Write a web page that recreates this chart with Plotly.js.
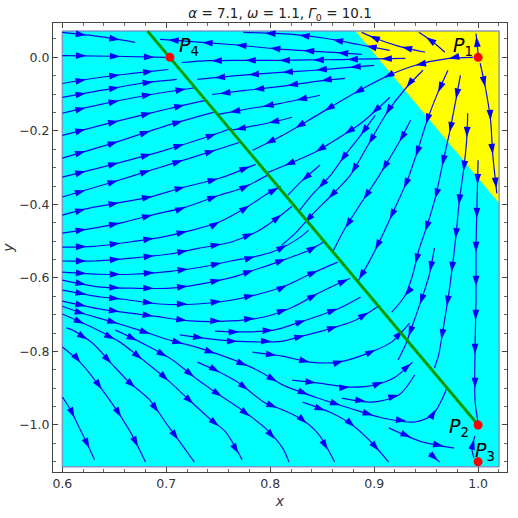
<!DOCTYPE html>
<html>
<head>
<meta charset="utf-8">
<script src="https://cdn.plot.ly/plotly-3.0.1.min.js"></script>
<style>html,body{margin:0;padding:0;background:#fff}#chart{width:518px;height:518px}</style>
</head>
<body>
<div id="chart"></div>
<script>
// regions (RegionPlot background)
const cyanX = [0.6, 1.0202, 1.0202, 0.6, 0.6];
const cyanY = [0.0715, 0.0715, -1.114, -1.114, 0.0715];
const yellowX = [0.882, 1.0202, 1.0202, 0.882];
const yellowY = [0.0715, 0.0715, -0.397, 0.0715];

// green line
const sepX = [0.682, 1.0];
const sepY = [0.0715, -1.0];

// fixed points P1..P4
const fixedX = [1.0, 1.0, 1.0, 0.7035];
const fixedY = [0.0, -1.0, -1.1, 0.0];
const labelX = [0.985, 0.982, 1.007, 0.722];
const labelY = [0.030, -1.008, -1.073, 0.030];
const labelTxt = ["1", "2", "3", "4"];

// streamlines, in flow order: [xs, ys]
const leftFlow = [
  [[0.600,0.635,0.670],[0.068,0.057,0.041]],
  [[0.600,0.650,0.699],[0.005,0.003,0.000]],
  [[0.600,0.637,0.670,0.702],[-0.071,-0.054,-0.043,-0.033]],
  [[0.600,0.637,0.675,0.710],[-0.109,-0.090,-0.071,-0.060]],
  [[0.600,0.637,0.685,0.729],[-0.152,-0.128,-0.101,-0.082]],
  [[0.600,0.648,0.703,0.738],[-0.212,-0.177,-0.139,-0.117]],
  [[0.600,0.648,0.701,0.746],[-0.274,-0.234,-0.185,-0.149]],
  [[0.600,0.646,0.696,0.744,0.763],[-0.326,-0.293,-0.255,-0.212,-0.193]],
  [[0.600,0.651,0.685,0.723,0.771],[-0.380,-0.337,-0.307,-0.274,-0.231]],
  [[0.600,0.626,0.658,0.687,0.713,0.751,0.786],[-0.429,-0.410,-0.394,-0.378,-0.356,-0.329,-0.291]],
  [[0.600,0.629,0.660,0.689,0.718,0.751,0.773,0.797],[-0.478,-0.465,-0.448,-0.427,-0.408,-0.375,-0.356,-0.321]],
  [[0.600,0.631,0.663,0.696,0.725,0.751,0.776,0.795,0.810],[-0.516,-0.514,-0.503,-0.489,-0.470,-0.448,-0.410,-0.375,-0.351]],
  [[0.600,0.631,0.667,0.703,0.732,0.762,0.786,0.804,0.821],[-0.554,-0.554,-0.546,-0.535,-0.519,-0.503,-0.476,-0.443,-0.405]],
  [[0.600,0.637,0.667,0.704,0.733,0.762,0.784,0.807,0.829,0.837],[-0.584,-0.590,-0.590,-0.582,-0.571,-0.554,-0.543,-0.524,-0.489,-0.470]],
  [[0.600,0.637,0.668,0.704,0.733,0.764,0.784,0.807,0.838,0.851],[-0.606,-0.625,-0.628,-0.628,-0.617,-0.598,-0.579,-0.557,-0.524,-0.503]],
  [[0.600,0.637,0.659,0.694,0.730,0.764,0.793,0.816,0.838,0.865],[-0.633,-0.652,-0.658,-0.671,-0.671,-0.660,-0.641,-0.620,-0.590,-0.557]],
  [[0.600,0.637,0.688,0.723,0.762,0.793,0.822,0.848,0.877],[-0.663,-0.685,-0.704,-0.717,-0.717,-0.707,-0.679,-0.639,-0.601]],
  [[0.713,0.742,0.764,0.812,0.831,0.853,0.882,0.904],[-0.755,-0.766,-0.772,-0.772,-0.758,-0.742,-0.715,-0.677]],
  [[0.747,0.764,0.803,0.829,0.867,0.887],[-0.745,-0.747,-0.742,-0.720,-0.682,-0.652]],
  [[0.783,0.812,0.838,0.866,0.895,0.917,0.934],[-0.802,-0.813,-0.829,-0.829,-0.804,-0.774,-0.723]],
  [[0.821,0.847,0.876,0.901,0.920,0.937],[-0.878,-0.886,-0.897,-0.891,-0.870,-0.829]],
  [[0.869,0.898,0.924,0.939],[-0.927,-0.938,-0.918,-0.864]]
];

const lowerFlow = [
  [[0.600,0.617,0.637,0.654,0.667,0.680],[-0.788,-0.829,-0.899,-0.967,-1.027,-1.101]],
  [[0.600,0.608,0.615,0.623,0.631],[-0.924,-0.959,-1.000,-1.046,-1.095]],
  [[0.604,0.610,0.629,0.646,0.664,0.684,0.701,0.720,0.727],[-0.736,-0.742,-0.777,-0.829,-0.883,-0.932,-1.000,-1.073,-1.101]],
  [[0.600,0.626,0.655,0.674,0.699,0.722,0.741,0.757,0.773],[-0.698,-0.731,-0.774,-0.815,-0.872,-0.932,-0.981,-1.019,-1.095]],
  [[0.651,0.661,0.684,0.706,0.728,0.751,0.770,0.795,0.812,0.818],[-0.742,-0.755,-0.788,-0.823,-0.872,-0.918,-0.954,-1.008,-1.063,-1.101]],
  [[0.600,0.619,0.645,0.674,0.703,0.732,0.763,0.789,0.812,0.843,0.876,0.908,0.939,0.956,0.965,0.970],
   [-0.677,-0.696,-0.717,-0.742,-0.769,-0.791,-0.821,-0.853,-0.891,-0.924,-0.954,-0.981,-0.992,-0.973,-0.932,-0.899]],
  [[0.730,0.751,0.770,0.795,0.812,0.831,0.847,0.862],[-0.829,-0.856,-0.886,-0.940,-0.959,-0.986,-1.027,-1.101]],
  [[0.831,0.857,0.879,0.898,0.914],[-0.938,-0.965,-1.000,-1.049,-1.101]],
  [[0.914,0.946,0.977],[-1.008,-1.046,-1.063]],
  [[0.953,0.963],[-1.076,-1.101]]
];

const upperFan = [
  [[0.888,0.857,0.812,0.762,0.709,0.694],[0.008,0.014,0.022,0.035,0.046,0.049]],
  [[0.915,0.885,0.853,0.819,0.774],[0.019,0.035,0.052,0.063,0.068]],
  [[0.949,0.924,0.901,0.888],[0.014,0.030,0.052,0.068]],
  [[0.968,0.956,0.943],[0.014,0.043,0.068]],
  [[0.930,0.898,0.869,0.838,0.812,0.771,0.741,0.715],[-0.003,-0.004,-0.006,-0.007,-0.008,-0.008,-0.009,-0.014]],
  [[0.900,0.876,0.843,0.810,0.771,0.730],[-0.022,-0.027,-0.035,-0.041,-0.049,-0.060]],
  [[0.872,0.850,0.810,0.776,0.744],[-0.057,-0.063,-0.079,-0.090,-0.101]],
  [[0.848,0.810,0.771,0.750],[-0.103,-0.125,-0.144,-0.155]],
  [[0.821,0.810,0.778,0.763],[-0.163,-0.171,-0.190,-0.198]],
  [[0.995,0.972,0.939,0.914,0.891,0.866,0.840,0.812,0.783],[0.000,-0.003,-0.022,-0.049,-0.082,-0.122,-0.166,-0.212,-0.253]],
  [[0.915,0.887,0.867,0.843,0.819,0.798],[-0.109,-0.180,-0.217,-0.258,-0.288,-0.313]],
  [[0.848,0.829,0.817],[-0.293,-0.340,-0.375]],
  [[0.901,0.887,0.872,0.858,0.840,0.827],[-0.158,-0.212,-0.266,-0.321,-0.375,-0.421]]
];

const rightFan = [
  [[0.947,0.931,0.912,0.894,0.877,0.859,0.840,0.825,0.811],[-0.035,-0.082,-0.152,-0.239,-0.321,-0.375,-0.429,-0.476,-0.511]],
  [[0.935,0.925,0.915,0.905,0.888,0.872,0.860],[-0.171,-0.226,-0.274,-0.321,-0.394,-0.465,-0.530]],
  [[0.971,0.961,0.951,0.941,0.932,0.920,0.908,0.895,0.884],[-0.035,-0.098,-0.171,-0.261,-0.334,-0.410,-0.484,-0.557,-0.611]],
  [[0.983,0.978,0.973,0.966,0.959,0.951,0.943,0.937,0.930,0.917],[-0.049,-0.125,-0.198,-0.288,-0.380,-0.457,-0.524,-0.592,-0.647,-0.693]],
  [[0.990,0.989,0.986,0.982,0.978,0.972,0.967,0.962,0.958],[-0.152,-0.226,-0.307,-0.389,-0.503,-0.639,-0.728,-0.810,-0.845]],
  [[0.958,0.953,0.946,0.937,0.930,0.923],[-0.519,-0.592,-0.655,-0.728,-0.783,-0.823]],
  [[1.000,0.999,0.998,0.998,0.997,0.997,1.000],[-0.280,-0.389,-0.524,-0.660,-0.796,-0.932,-0.995]],
  [[1.002,1.007,1.012,1.014,1.018],[-0.016,-0.082,-0.171,-0.261,-0.370]],
  [[1.000,0.999,0.998],[0.011,0.038,0.065]],
  [[0.996,0.994,0.997],[-1.090,-1.063,-1.030]]
];

const W = 518, H = 518;
const mg = { l: 53, r: 11, t: 23, b: 46 };
const xRange = [0.591, 1.0278];
const yRange = [-1.128, 0.0935];
const sx = (W - mg.l - mg.r) / (xRange[1] - xRange[0]);
const sy = (H - mg.t - mg.b) / (yRange[1] - yRange[0]);

const streams = [...leftFlow, ...lowerFlow, ...upperFan, ...rightFan];

// one trace for all lines, gaps between them
const lx = [], ly = [];
streams.forEach(([xs, ys]) => { lx.push(...xs, null); ly.push(...ys, null); });

// arrow heads spaced along each line, pointing along the flow
const ax = [], ay = [], ang = [];
streams.forEach(([xs, ys]) => {
  const segs = [];
  let total = 0;
  for (let i = 1; i < xs.length; i++) {
    const dx = (xs[i] - xs[i - 1]) * sx, dy = -(ys[i] - ys[i - 1]) * sy;
    const len = Math.hypot(dx, dy);
    segs.push({ i, dx, dy, len, start: total });
    total += len;
  }
  const marks = [];
  for (let s = 24; s <= total - 2; s += 34) marks.push(s);
  if (!marks.length) marks.push(total * 0.85);
  marks.forEach(s => {
    const g = segs.find(q => s <= q.start + q.len) || segs[segs.length - 1];
    const t = (s - g.start) / g.len;
    ax.push(xs[g.i - 1] + (xs[g.i] - xs[g.i - 1]) * t);
    ay.push(ys[g.i - 1] + (ys[g.i] - ys[g.i - 1]) * t);
    ang.push(Math.atan2(g.dx, -g.dy) * 180 / Math.PI);
  });
});

const blue = "rgb(10,10,235)";

const traces = [
  { x: cyanX, y: cyanY, mode: "lines", fill: "toself", fillcolor: "rgb(0,255,255)",
    line: { width: 0 }, hoverinfo: "skip" },
  { x: yellowX, y: yellowY, mode: "lines", fill: "toself", fillcolor: "rgb(255,255,0)",
    line: { width: 0 }, hoverinfo: "skip" },
  { x: cyanX, y: cyanY, mode: "lines", line: { color: "rgba(120,130,185,0.8)", width: 1.5 } },
  { x: lx, y: ly, mode: "lines", connectgaps: false,
    line: { color: blue, width: 1.2, shape: "spline", smoothing: 0.8 } },
  { x: ax, y: ay, mode: "markers",
    marker: { symbol: "arrow", size: 11, angle: ang, color: "rgb(0,0,255)", line: { width: 0 } } },
  { x: sepX, y: sepY, mode: "lines", line: { color: "rgb(0,155,0)", width: 3 } },
  { x: fixedX, y: fixedY, mode: "markers", marker: { color: "rgb(255,0,0)", size: 9 } }
];

const annotations = labelTxt.map((t, i) => ({
  x: labelX[i], y: labelY[i], xref: "x", yref: "y", showarrow: false,
  text: "<i>P</i><sub>" + t + "</sub>",
  font: { family: "DejaVu Sans", size: 19, color: "#000" }
}));

const axisCommon = {
  showgrid: false, zeroline: false, showline: true, linecolor: "#444", linewidth: 1,
  mirror: "allticks", ticks: "inside", ticklen: 5, tickcolor: "#444",
  tickfont: { family: "DejaVu Sans", size: 12.5, color: "#333" },
  tickformat: ".1f", fixedrange: true
};

const layout = {
  width: W, height: H, margin: mg, showlegend: false,
  paper_bgcolor: "#fff", plot_bgcolor: "#fff",
  title: {
    text: "<i>α</i> = 7.1, <i>ω</i> = 1.1, <i>Γ</i><sub>0</sub> = 10.1",
    font: { family: "DejaVu Sans", size: 13.5, color: "#222" },
    x: 0.5, xref: "paper", y: 1 - 13 / H, yref: "container", yanchor: "middle"
  },
  xaxis: Object.assign({}, axisCommon, {
    range: xRange, dtick: 0.1, tick0: 0,
    minor: { dtick: 0.02, ticklen: 3, ticks: "inside", tickcolor: "#666" },
    title: { text: "<i>x</i>", standoff: 6, font: { family: "DejaVu Sans", size: 14, color: "#333" } }
  }),
  yaxis: Object.assign({}, axisCommon, {
    range: yRange, dtick: 0.2, tick0: 0,
    minor: { dtick: 0.05, ticklen: 3, ticks: "inside", tickcolor: "#666" },
    title: { text: "<i>y</i>", standoff: 4, font: { family: "DejaVu Sans", size: 14, color: "#333" } }
  }),
  annotations: annotations
};

Plotly.newPlot("chart", traces, layout, { staticPlot: true });
</script>
</body>
</html>
